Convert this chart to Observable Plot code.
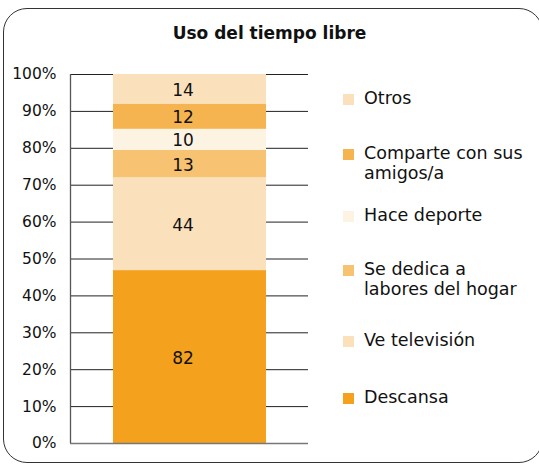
<!DOCTYPE html>
<html>
<head>
<meta charset="utf-8">
<script src="https://cdn.jsdelivr.net/npm/d3@7"></script>
<script src="https://cdn.jsdelivr.net/npm/@observablehq/plot@0.6"></script>
<style>
  html, body { margin: 0; padding: 0; background: #fff; }
  body { width: 539px; height: 465px; overflow: hidden; font-family: "DejaVu Sans", sans-serif; }
  #wrap { position: relative; width: 539px; height: 465px; }
  #frame { position: absolute; left: 3px; top: 8px; width: 540px; height: 455px; border: 1.3px solid #333; border-radius: 24px; box-sizing: border-box; }
  #title { position: absolute; left: 0; width: 539px; top: 23px; text-align: center; font-weight: bold; font-size: 17px; color: #111; }
  #chart { position: absolute; left: 0; top: 0; }
  #legend { position: absolute; left: 343px; top: 0; width: 196px; font-size: 17.5px; color: #111; }
  .item { position: absolute; left: 0; display: flex; align-items: flex-start; line-height: 20px; white-space: nowrap; }
  .sw { width: 11px; height: 11px; margin-top: 6px; margin-right: 10px; flex: none; }
</style>
</head>
<body>
<div id="wrap">
  <div id="frame"></div>
  <div id="title">Uso del tiempo libre</div>
  <div id="chart"></div>
  <div id="legend"></div>
</div>
<script>
// Data (bottom to top of the stack)
const categories = ["Descansa", "Ve televisión", "Se dedica a labores del hogar", "Hace deporte", "Comparte con sus amigos/a", "Otros"];
const values = [82, 44, 13, 10, 12, 14];
const colors = ["#F4A11D", "#FAE1BC", "#F7C372", "#FDF3E3", "#F6B450", "#FAE1BC"];
const legendLabels = ["Otros", "Comparte con sus\namigos/a", "Hace deporte", "Se dedica a\nlabores del hogar", "Ve televisión", "Descansa"];
const legendColors = ["#FAE1BC", "#F6B450", "#FDF3E3", "#F7C372", "#FAE1BC", "#F4A11D"];
const legendTops = [88, 143, 205, 259, 330, 387];
const yTicks = [0, 0.1, 0.2, 0.3, 0.4, 0.5, 0.6, 0.7, 0.8, 0.9, 1];

const data = categories.map((c, i) => ({group: "Uso", cat: c, value: values[i], order: i}));

const plot = Plot.plot({
  width: 539,
  height: 465,
  marginLeft: 70,
  marginRight: 231,
  marginTop: 74,
  marginBottom: 22,
  style: {fontFamily: "DejaVu Sans, sans-serif", fontSize: "15.5px", background: "transparent", color: "#111"},
  x: {type: "band", domain: ["Uso"], padding: 0.217, axis: null},
  y: {domain: [0, 1], ticks: yTicks, tickFormat: d => Math.round(d * 100) + "%", tickSize: 0, tickPadding: 14, label: null},
  color: {domain: categories, range: colors},
  marks: [
    Plot.ruleY(yTicks, {stroke: "#222", strokeWidth: 1}),
    Plot.barY(data, Plot.stackY({x: "group", y: "value", fill: "cat", order: "order", offset: "normalize"})),
    Plot.textY(data, Plot.stackY({x: "group", y: "value", z: "cat", order: "order", offset: "normalize", text: d => String(d.value), fill: "#111", fontSize: 17, dx: -7, dy: 1})),
    Plot.ruleY([0], {stroke: "#777", strokeWidth: 1.5})
  ]
});
// left axis line
d3.select(plot).append("line").attr("x1", 70.5).attr("x2", 70.5).attr("y1", 74).attr("y2", 443).attr("stroke", "#555").attr("stroke-width", 1.3);
document.getElementById("chart").appendChild(plot);

const leg = document.getElementById("legend");
legendLabels.forEach((l, i) => {
  const it = document.createElement("div");
  it.className = "item";
  it.style.top = legendTops[i] + "px";
  const sw = document.createElement("div");
  sw.className = "sw";
  sw.style.background = legendColors[i];
  const t = document.createElement("div");
  t.innerHTML = l.split("\n").join("<br>");
  it.appendChild(sw); it.appendChild(t);
  leg.appendChild(it);
});
</script>
</body>
</html>
